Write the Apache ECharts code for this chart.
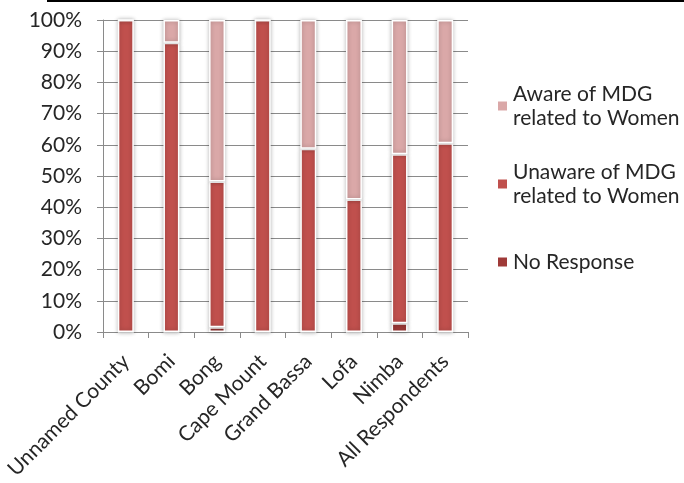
<!DOCTYPE html>
<html>
<head>
<meta charset="utf-8">
<script src="https://cdn.jsdelivr.net/npm/echarts@6/dist/echarts.min.js"></script>
<style>
  html, body { margin: 0; padding: 0; background: #fff; }
  #chart { width: 684px; height: 483px; }
</style>
</head>
<body>
<div id="chart"></div>
<script>
// Awareness of the MDG related to women, share of respondents by county (%)
const categories = ['Unnamed County', 'Bomi', 'Bong', 'Cape Mount', 'Grand Bassa', 'Lofa', 'Nimba', 'All Respondents'];
const noResponse = [0, 0, 1.5, 0, 0, 0, 2.8, 0];
const unaware = [100, 92.7, 46.7, 100, 58.7, 42.5, 54.2, 60.5];
const aware = [0, 7.3, 51.8, 0, 41.3, 57.5, 43.0, 39.5];
const yTicks = [0, 10, 20, 30, 40, 50, 60, 70, 80, 90, 100];

const FONT = 'Lato';
const TEXT = '#262626';
const GRID = '#8a8a8a';

const NAME_AWARE = 'Aware of MDG related to Women';
const NAME_UNAWARE = 'Unaware of MDG related to Women';
const NAME_NR = 'No Response';

function barSeries(name, data, color) {
  return {
    name: name,
    type: 'bar',
    stack: 'total',
    data: data,
    barWidth: '35%',
    itemStyle: {
      color: color,
      borderColor: '#ffffff',
      borderWidth: 1.5,
      shadowBlur: 4,
      shadowColor: 'rgba(0,0,0,0.28)'
    },
    emphasis: { disabled: true }
  };
}

const chart = echarts.init(document.getElementById('chart'), null, { renderer: 'canvas' });
chart.setOption({
  animation: false,
  backgroundColor: '#ffffff',
  textStyle: { fontFamily: FONT },
  grid: { left: 103, right: 216, top: 20, bottom: 151, containLabel: false },
  graphic: [
    { type: 'rect', left: 47, top: 0, shape: { width: 637, height: 2 }, style: { fill: '#000' }, silent: true }
  ],
  legend: {
    orient: 'vertical',
    left: 491,
    top: 65,
    itemWidth: 11,
    itemHeight: 11,
    itemGap: 6,
    itemTextGap: 6,
    icon: 'rect',
    selectedMode: false,
    formatter: function (name) {
      if (name === NAME_AWARE) return 'Aware of MDG\nrelated to Women';
      if (name === NAME_UNAWARE) return 'Unaware of MDG\nrelated to Women';
      return name;
    },
    textStyle: { fontFamily: FONT, fontSize: 21, color: TEXT, lineHeight: 24, padding: [24, 0, 0, 0] },
    data: [
      { name: NAME_AWARE },
      { name: NAME_UNAWARE },
      { name: NAME_NR, textStyle: { padding: [24, 0, 24, 0] } }
    ]
  },
  xAxis: {
    type: 'category',
    data: categories,
    axisLine: { show: true, lineStyle: { color: GRID, width: 1 } },
    axisTick: { show: true, alignWithLabel: false, length: 6, lineStyle: { color: GRID } },
    axisLabel: {
      interval: 0,
      rotate: 45,
      margin: 26,
      padding: [14, 0, 0, 0],
      fontFamily: FONT,
      fontSize: 21,
      color: TEXT
    }
  },
  yAxis: {
    type: 'value',
    min: yTicks[0],
    max: yTicks[yTicks.length - 1],
    interval: yTicks[1] - yTicks[0],
    axisLine: { show: true, lineStyle: { color: GRID, width: 1 } },
    axisTick: { show: true, length: 6, lineStyle: { color: GRID } },
    splitLine: { show: true, lineStyle: { color: GRID, width: 1 } },
    axisLabel: {
      margin: 21,
      fontFamily: FONT,
      fontSize: 21,
      color: TEXT,
      formatter: '{value}%'
    }
  },
  series: [
    barSeries(NAME_NR, noResponse, '#9f3a38'),
    barSeries(NAME_UNAWARE, unaware, '#c0504d'),
    barSeries(NAME_AWARE, aware, '#daa8a8')
  ]
});
</script>
</body>
</html>
